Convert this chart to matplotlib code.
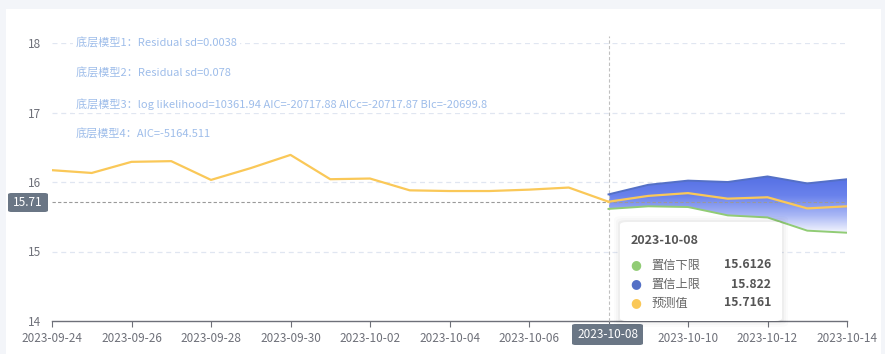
import matplotlib
matplotlib.use("Agg")
import matplotlib.pyplot as plt
import numpy as np
import pandas as pd
from matplotlib.patches import FancyBboxPatch, Polygon
from matplotlib.colors import LinearSegmentedColormap
import matplotlib.dates as mdates

plt.rcParams['font.family'] = ['Noto Sans CJK SC', 'DejaVu Sans']

# ---------------- data ----------------
hist_dates = pd.date_range("2023-09-24", "2023-10-08", freq="D")
hist_values = [16.17, 16.13, 16.29, 16.30, 16.03, 16.20, 16.39, 16.04, 16.05,
               15.88, 15.87, 15.87, 15.89, 15.92, 15.7161]

fc_dates = pd.date_range("2023-10-08", "2023-10-14", freq="D")
fc_pred = [15.7161, 15.80, 15.84, 15.76, 15.78, 15.62, 15.65]
fc_upper = [15.822, 15.96, 16.02, 16.00, 16.08, 15.98, 16.04]
fc_lower = [15.6126, 15.65, 15.64, 15.52, 15.49, 15.30, 15.27]

tick_labels = ["2023-09-24", "2023-09-26", "2023-09-28", "2023-09-30", "2023-10-02",
               "2023-10-04", "2023-10-06", "2023-10-08", "2023-10-10", "2023-10-12",
               "2023-10-14"]
y_ticks = [14, 15, 16, 17, 18]

notes = ["底层模型1：Residual sd=0.0038",
         "底层模型2：Residual sd=0.078",
         "底层模型3：log likelihood=10361.94 AIC=-20717.88 AICc=-20717.87 BIc=-20699.8",
         "底层模型4：AIC=-5164.511"]

tooltip_date = "2023-10-08"
tooltip_names = ["置信下限", "置信上限", "预测值"]
tooltip_values = ["15.6126", "15.822", "15.7161"]
crosshair_y = 15.71

# ---------------- style ----------------
YELLOW = "#fac858"
GREEN = "#91cc75"
BLUE = "#5470c6"
AXIS_GRAY = "#6e7079"
GRID = "#e0e6f1"
NOTE_C = "#9ebdea"

W, H = 885, 354
fig = plt.figure(figsize=(W / 100, H / 100), dpi=100)
fig.patch.set_facecolor("#f3f5f9")

def fx(x):
    return x / W

def fy(y):
    return 1 - y / H

# white card
fig.add_artist(FancyBboxPatch((fx(6), fy(354)), fx(881) - fx(6), fy(9) - fy(354),
                              boxstyle="square,pad=0", transform=fig.transFigure,
                              facecolor="white", edgecolor="none", zorder=0))

ax = fig.add_axes([fx(52), fy(321), fx(847) - fx(52), fy(43) - fy(321)])
ax.set_facecolor("none")
x0 = pd.Timestamp("2023-09-24")
x1 = pd.Timestamp("2023-10-14")
ax.set_xlim(x0, x1)
ax.set_ylim(14, 18)

for s in ["top", "right", "left"]:
    ax.spines[s].set_visible(False)
ax.spines["bottom"].set_color(AXIS_GRAY)
ax.spines["bottom"].set_linewidth(1)

ax.set_yticks(y_ticks)
ax.set_yticklabels([str(v) for v in y_ticks])
ax.tick_params(axis="y", length=0, pad=8, labelsize=8.5, labelcolor=AXIS_GRAY)
ax.set_xticks(pd.to_datetime(tick_labels))
# the crosshair label box takes the place of the hovered date's tick label
ax.set_xticklabels(["" if t == tooltip_date else t for t in tick_labels])
ax.tick_params(axis="x", length=4, color=AXIS_GRAY, labelsize=8.5, labelcolor=AXIS_GRAY, pad=4)
for v in y_ticks[1:]:
    ax.axhline(v, color=GRID, lw=0.9, ls=(0, (4, 3)), zorder=1)

# gradient fill between lower and upper
xs_num = mdates.date2num(fc_dates)
poly_pts = np.vstack([np.column_stack([xs_num, fc_upper]),
                      np.column_stack([xs_num[::-1], fc_lower[::-1]])])
poly = Polygon(poly_pts, closed=True, facecolor="none", edgecolor="none",
               transform=ax.transData)
ax.add_patch(poly)
cmap = LinearSegmentedColormap.from_list("g", ["#ffffff", "#a9b7f5", "#6a82ec", "#5570e4"])
grad = np.linspace(0, 1, 256).reshape(-1, 1)
ymin_g, ymax_g = min(fc_lower), max(fc_upper)
im = ax.imshow(grad, cmap=cmap, aspect="auto", origin="lower",
               extent=[xs_num[0], xs_num[-1], ymin_g - 0.03, ymax_g],
               zorder=2)
im.set_clip_path(poly)
ax.set_xlim(x0, x1)
ax.set_ylim(14, 18)

ax.plot(hist_dates, hist_values, color=YELLOW, lw=1.6, zorder=4)
ax.plot(fc_dates, fc_upper, color=BLUE, lw=1.4, zorder=4)
ax.plot(fc_dates, fc_lower, color=GREEN, lw=1.4, zorder=4)
ax.plot(fc_dates, fc_pred, color=YELLOW, lw=1.6, zorder=5)

# notes (on a white backing that interrupts the grid lines)
note_y = [43, 73, 104, 134]
for t, yy in zip(notes, note_y):
    fig.text(fx(76), fy(yy), t, color=NOTE_C, fontsize=8, va="center", ha="left",
             zorder=6, bbox=dict(boxstyle="square,pad=0.25", facecolor="white",
                                 edgecolor="none"))

# crosshair
cx = pd.Timestamp(tooltip_date)
ax.axhline(crosshair_y, color="#9a9a9a", lw=0.8, ls=(0, (3, 2)), zorder=3)
ax.plot([cx, cx], [14, 18.1], color="#c0c0c0", lw=0.8, ls=(0, (3, 2)), zorder=3,
        clip_on=False)

# crosshair labels
def label_box(x_l, y_t, x_r, y_b, text, fs):
    fig.add_artist(FancyBboxPatch((fx(x_l), fy(y_b)), fx(x_r) - fx(x_l), fy(y_t) - fy(y_b),
                                  boxstyle="round,pad=0,rounding_size=0.004",
                                  transform=fig.transFigure, facecolor="#6a7685",
                                  edgecolor="none", zorder=8))
    fig.text(fx((x_l + x_r) / 2), fy((y_t + y_b) / 2), text, color="white",
             fontsize=fs, ha="center", va="center", zorder=9)

label_box(8, 193, 48, 212, f"{crosshair_y:.2f}", 8.5)
label_box(572, 324, 643, 345, tooltip_date, 8.5)

# tooltip with soft shadow
for p, a in [(6, 0.015), (4, 0.02), (2, 0.03)]:
    fig.add_artist(FancyBboxPatch((fx(620 - p), fy(321 + p)), (162 + 2 * p) / W,
                                  (99 + 2 * p) / H,
                                  boxstyle="round,pad=0,rounding_size=0.01",
                                  transform=fig.transFigure, facecolor="black",
                                  edgecolor="none", alpha=a, zorder=10))
fig.add_artist(FancyBboxPatch((fx(620), fy(321)), 162 / W, 99 / H,
                              boxstyle="round,pad=0,rounding_size=0.008",
                              transform=fig.transFigure, facecolor="white",
                              edgecolor="none", zorder=11))
fig.text(fx(631), fy(241), tooltip_date, color="#555555", fontsize=9, fontweight="bold",
         ha="left", va="center", zorder=12)
dot_colors = [GREEN, BLUE, YELLOW]
row_y = [265, 284, 303]
for name, val, c, yy in zip(tooltip_names, tooltip_values, dot_colors, row_y):
    fig.text(fx(636), fy(yy), "●", color=c, fontsize=9, ha="center", va="center", zorder=12,
             family=["DejaVu Sans"])
    fig.text(fx(651), fy(yy), name, color="#666666", fontsize=8.8, ha="left", va="center",
             zorder=12)
    fig.text(fx(771), fy(yy), val, color="#555555", fontsize=8.8, fontweight="bold",
             ha="right", va="center", zorder=12)

fig.savefig("out.png", dpi=100, facecolor=fig.get_facecolor())
